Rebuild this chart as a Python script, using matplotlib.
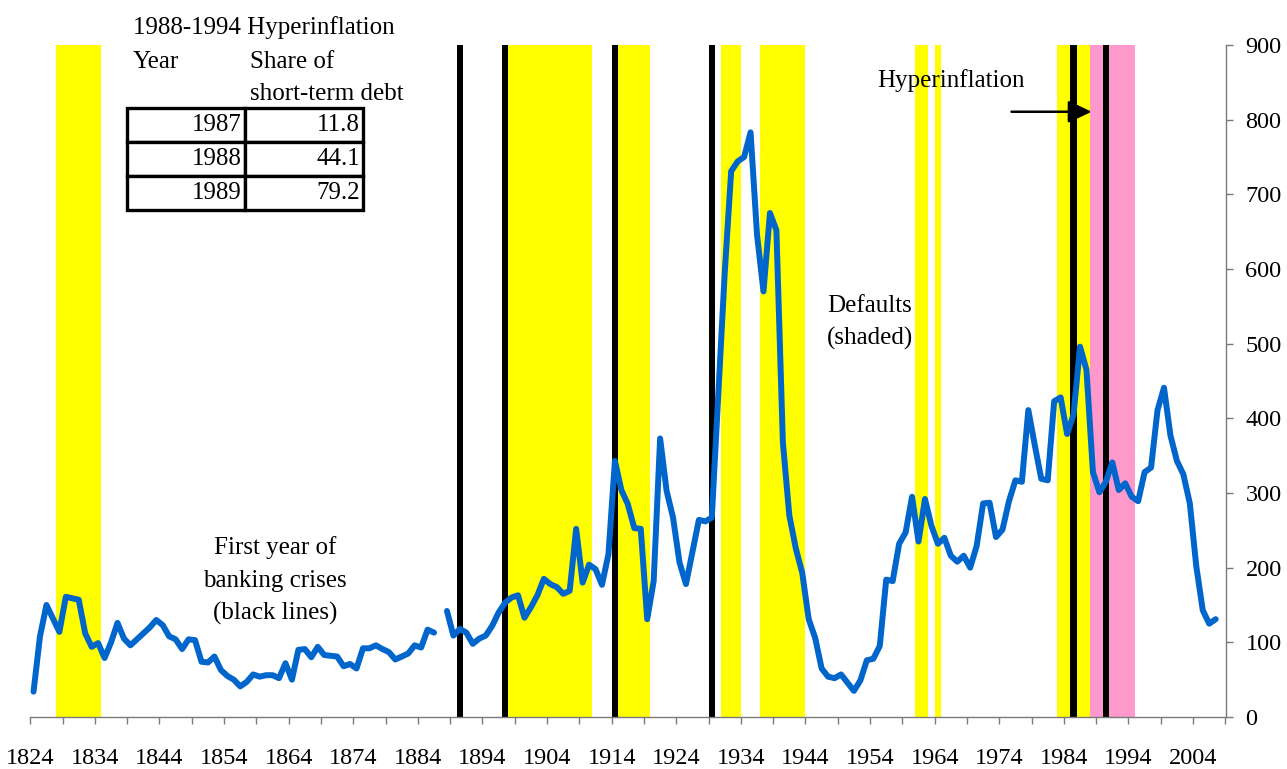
import numpy as np
import matplotlib
matplotlib.use("Agg")
import matplotlib.pyplot as plt

plt.rcParams['font.family'] = ['Liberation Serif', 'DejaVu Serif']

# share of short-term debt series, one value per year (1887 missing)
years = list(range(1824, 2008))
values = [
    34, 108, 150, 132, 114, 161, 159, 157, 112, 94,      # 1824-1833
    99, 79, 100, 126, 105, 96, 104, 112, 120, 130,       # 1834-1843
    123, 108, 104, 91, 104, 103, 74, 73, 81, 63,         # 1844-1853
    55, 50, 41, 47, 57, 54, 56, 56, 52, 72,              # 1854-1863
    50, 90, 91, 80, 94, 83, 82, 81, 68, 71,              # 1864-1873
    65, 92, 92, 96, 91, 87, 77, 81, 85, 96,              # 1874-1883
    93, 117, 113, np.nan,                                # 1884-1887
    142, 109, 118, 113, 98, 105, 109, 122, 140, 153,     # 1888-1897
    160, 163, 133, 147, 163, 185, 178, 174, 165, 169,    # 1898-1907
    252, 180, 204, 198, 177, 218, 343, 304, 285, 253,    # 1908-1917
    252, 131, 182, 373, 303, 267, 207, 178, 221, 264,    # 1918-1927
    262, 267, 430, 595, 731, 744, 750, 783, 646, 570,    # 1928-1937
    675, 652, 368, 270, 226, 193, 131, 106, 65, 54,      # 1938-1947
    52, 57, 46, 35, 49, 76, 78, 95, 184, 182,            # 1948-1957
    232, 247, 295, 235, 292, 256, 232, 240, 216, 208,    # 1958-1967
    216, 200, 229, 286, 287, 241, 251, 289, 317, 315,    # 1968-1977
    411, 364, 319, 317, 423, 428, 379, 405, 496, 465,    # 1978-1987
    328, 301, 315, 341, 304, 313, 295, 289, 328, 334,    # 1988-1997
    411, 441, 377, 343, 325, 286, 202, 143, 125, 131,    # 1998-2007
]

# default episodes (first year, last year + 1)
default_start = [1828, 1898, 1915, 1931, 1937, 1961, 1964, 1983]
default_end = [1835, 1911, 1920, 1934, 1944, 1963, 1965, 1988]
hyper_start, hyper_end = 1988, 1995
banking_crises = [1890, 1897, 1914, 1929, 1985, 1990]

table_years = ['1987', '1988', '1989']
table_shares = ['11.8', '44.1', '79.2']

x_ticks = list(range(1824, 2005, 10))
y_ticks = list(range(0, 901, 100))

fig = plt.figure(figsize=(12.87, 7.69), dpi=100)
ax = fig.add_axes([30.3 / 1287, 1 - 717 / 769, 1195.7 / 1287, 672 / 769])

for s, e in zip(default_start, default_end):
    ax.axvspan(s, e, color='#FFFF00', lw=0, zorder=1)
ax.axvspan(hyper_start, hyper_end, color='#FF99CC', lw=0, zorder=1)
for b in banking_crises:
    ax.axvspan(b, b + 1, color='black', lw=0, zorder=2)

ax.plot(np.array(years) + 0.5, values, color='#0066CC', lw=4.3,
        solid_joinstyle='round', solid_capstyle='round', zorder=3)

ax.set_xlim(1824, 2009.1)
ax.set_ylim(0, 900)

ax.set_xticks(x_ticks)
ax.set_xticklabels([str(t) for t in x_ticks])
ax.set_xticks(list(range(1829, 2010, 10)), minor=True)
ax.yaxis.tick_right()
ax.set_yticks(y_ticks)

gray = '#7a7a7a'
for side in ['left', 'top']:
    ax.spines[side].set_visible(False)
for side in ['right', 'bottom']:
    ax.spines[side].set_color(gray)
    ax.spines[side].set_linewidth(1.0)
ax.tick_params(axis='x', which='both', direction='out', length=5, width=1,
               color=gray, labelsize=17.5, pad=17)
ax.tick_params(axis='y', direction='out', length=5, width=1,
               color=gray, labelsize=17.5, pad=9)

fs = 18
ax.text(1839.9, 914.7, '1988-1994 Hyperinflation', fontsize=fs, va='baseline')
ax.text(1839.9, 868.8, 'Year', fontsize=fs, va='baseline')
ax.text(1858.0, 868.8, 'Share of', fontsize=fs, va='baseline')
ax.text(1858.0, 826.3, 'short-term debt', fontsize=fs, va='baseline')

tbl = ax.table(cellText=[[y, v] for y, v in zip(table_years, table_shares)],
               cellLoc='right', bbox=[0.0806, 0.7545, 0.1979, 0.1513], zorder=5)
tbl.auto_set_font_size(False)
for cell in tbl.get_celld().values():
    cell.set_linewidth(2.4)
    cell.set_edgecolor('black')
    cell.PAD = 0.03
    cell.get_text().set_fontsize(fs)

ax.text(1978.0, 843.7, 'Hyperinflation', fontsize=fs, ha='right', va='baseline')
ax.annotate('', xy=(1988.3, 810.6), xytext=(1975.9, 810.6),
            arrowprops=dict(arrowstyle='-|>,head_length=0.95,head_width=0.45',
                            color='black', lw=1.8, shrinkA=0, shrinkB=0,
                            mutation_scale=15), zorder=6)

ax.text(1954.0, 542.4, 'Defaults', fontsize=fs, ha='center', va='baseline')
ax.text(1954.0, 498.2, '(shaded)', fontsize=fs, ha='center', va='baseline')

ax.text(1861.9, 218.3, 'First year of', fontsize=fs, ha='center', va='baseline')
ax.text(1861.9, 174.5, 'banking crises', fontsize=fs, ha='center', va='baseline')
ax.text(1861.9, 129.9, '(black lines)', fontsize=fs, ha='center', va='baseline')

fig.savefig('out.png', dpi=100)
